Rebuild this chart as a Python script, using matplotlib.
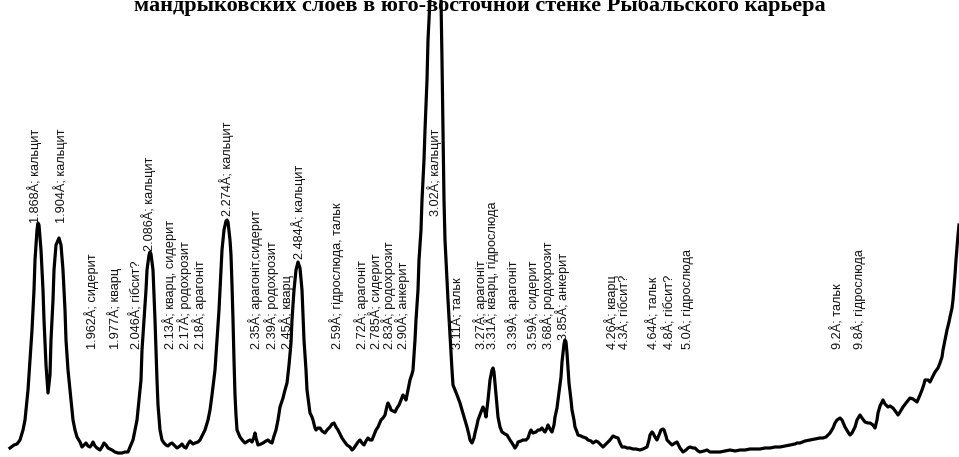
import matplotlib
matplotlib.use("Agg")
import matplotlib.pyplot as plt

# ---- data (horizontal position in px-like units, intensity = counts above bottom) ----
curve_pts = [(10,448),(14,445),(17,444),(20,440),(23,430),(25,420),(28,390),(30,360),(32,330),(34,290),(35,260),(37,230),(38,223),(39,225),(41,250),(43,290),(44,320),(46,365),(48,393),(50,375),(51,340),(53,300),(54,270),(56,245),(59,238),(61,245),(63,270),(65,310),(66,340),(68,370),(70,390),(73,420),(75,430),(77,437),(80,442),(82,447),(84,445),(86,443),(88,446),(90,447),(92,444),(93,442),(95,446),(97,448),(100,450),(102,447),(104,443),(106,445),(108,448),(112,450),(115,452),(118,453),(122,453),(125,452),(128,452),(130,447),(133,440),(135,430),(137,420),(139,400),(141,380),(142,350),(144,320),(146,290),(147,270),(149,255),(150,252),(151,254),(153,270),(154,295),(155,320),(156,350),(157,380),(158,405),(160,430),(162,440),(164,443),(166,445),(168,446),(170,444),(172,443),(175,446),(177,448),(180,446),(182,444),(184,447),(186,448),(188,444),(190,441),(193,444),(195,443),(198,442),(200,440),(202,436),(205,430),(208,420),(210,410),(212,395),(215,370),(217,340),(219,310),(221,270),(222,250),(224,230),(226,221),(227,220),(228,222),(230,240),(231,255),(232,285),(233,320),(234,360),(235,395),(236,415),(237,430),(240,437),(243,441),(245,443),(248,441),(250,440),(252,442),(254,437),(255,433),(256,438),(258,445),(261,444),(263,443),(266,441),(268,440),(270,442),(272,443),(274,436),(276,430),(278,420),(280,407),(283,398),(285,390),(287,383),(289,365),(291,343),(292,320),(294,290),(296,270),(298,262),(300,268),(302,290),(303,315),(304,340),(306,370),(307,390),(309,405),(310,413),(312,417),(313,420),(315,428),(316,430),(318,428),(320,428),(322,431),(325,433),(327,430),(330,427),(332,424),(334,423),(336,427),(338,430),(340,434),(342,438),(344,441),(347,445),(350,447),(352,450),(354,448),(356,445),(358,442),(360,440),(362,443),(364,445),(366,441),(368,438),(370,440),(372,440),(374,435),(376,430),(378,427),(381,420),(383,418),(385,415),(387,406),(388,403),(390,407),(391,410),(393,411),(395,412),(397,408),(399,405),(401,400),(403,395),(405,398),(406,400),(408,390),(410,380),(412,374),(413,370),(415,340),(416,320),(418,290),(419,260),(421,230),(422,200),(424,160),(425,130),(427,80),(428,40),(430,0),(433,-120),(436,-200),(439,-120),(441,0),(442,60),(443,130),(444,200),(445,240),(446,260),(448,300),(450,335),(452,370),(453,385),(455,390),(457,395),(460,403),(462,410),(465,420),(467,427),(469,435),(470,440),(472,443),(474,438),(475,433),(477,425),(478,420),(481,412),(483,407),(485,412),(486,417),(488,400),(490,380),(492,370),(493,368),(494,372),(495,383),(497,405),(498,417),(500,427),(502,432),(505,434),(507,435),(510,440),(512,443),(515,448),(517,445),(518,442),(521,441),(523,440),(526,440),(528,438),(530,432),(531,430),(533,433),(536,432),(538,430),(540,430),(542,428),(544,431),(545,432),(547,428),(548,425),(550,429),(552,432),(554,425),(555,417),(557,408),(558,400),(560,385),(561,377),(562,362),(563,353),(564,344),(565,340),(566,342),(567,353),(568,368),(569,383),(571,400),(572,410),(574,420),(575,427),(577,432),(578,435),(581,436),(583,437),(586,438),(588,440),(591,441),(593,443),(596,441),(598,442),(600,444),(603,447),(605,445),(608,442),(610,440),(613,436),(615,437),(618,438),(620,443),(622,447),(625,447),(627,448),(630,448),(633,449),(636,449),(640,450),(643,449),(645,448),(647,447),(649,440),(650,435),(652,432),(653,433),(655,437),(657,440),(659,435),(661,430),(663,429),(664,430),(666,436),(667,440),(670,443),(672,445),(675,443),(677,442),(679,446),(680,448),(683,452),(686,450),(688,448),(690,447),(693,448),(695,448),(698,451),(700,452),(704,451),(707,450),(710,452),(715,452),(720,452),(725,451),(730,450),(735,451),(740,450),(745,450),(750,449),(755,449),(760,449),(765,448),(770,448),(775,447),(780,447),(785,446),(790,445),(795,444),(797,443),(800,443),(805,441),(810,440),(815,439),(820,438),(823,438),(826,437),(828,435),(830,433),(833,428),(835,423),(837,420),(840,418),(842,420),(845,427),(848,432),(850,435),(852,433),(855,427),(857,420),(860,415),(862,418),(865,422),(868,423),(870,423),(873,425),(875,428),(877,420),(878,413),(880,406),(883,400),(885,404),(888,407),(890,406),(893,408),(896,412),(898,415),(900,412),(903,407),(906,403),(910,398),(913,399),(917,402),(920,395),(922,390),(924,384),(925,380),(928,380),(930,382),(933,376),(935,372),(938,368),(940,363),(942,357),(943,350),(945,340),(947,330),(949,322),(950,317),(952,308),(953,300),(955,275),(956,260),(958,235),(959,225)]
position = [p[0] for p in curve_pts]
intensity = [457 - p[1] for p in curve_pts]

label_texts = ["1.868Å; кальцит", "1.904Å; кальцит", "1.962Å; сидерит", "1.977Å; кварц",
               "2.046Å; гібсит?", "2.086Å; кальцит", "2.13Å; кварц, сидерит", "2.17Å; родохрозит",
               "2.18Å; арагоніт", "2.274Å; кальцит", "2.35Å; арагоніт,сидерит", "2.39Å; родохрозит",
               "2.45Å; кварц", "2.484Å; кальцит", "2.59Å; гідрослюда, тальк", "2.72Å; арагоніт",
               "2.785Å; сидерит", "2.83Å; родохрозит", "2.90Å; анкерит", "3.02Å; кальцит",
               "3.11Å; тальк", "3.27Å; арагоніт", "3.31Å; кварц, гідрослюда", "3.39Å; арагоніт",
               "3.59Å; сидерит", "3.68Å; родохрозит", "3.85Å; анкерит", "4.26Å; кварц",
               "4.3Å; гібсит?", "4.64Å; тальк", "4.8Å; гібсит?", "5.0Å; гідрослюда",
               "9.2Å; тальк", "9.8Å; гідрослюда"]
label_x = [35, 61, 92, 115, 137, 149, 170, 185, 200, 227, 256, 272, 287, 299, 337, 362,
           376, 389, 403, 435, 458, 481, 492, 513, 533, 548, 563, 612, 625, 654, 670, 687,
           838, 859]
label_y = [223, 223, 349, 349, 349, 251, 349, 349, 349, 216, 349, 349, 349, 259, 349, 349,
           349, 349, 349, 216, 349, 349, 349, 349, 349, 349, 340, 349, 349, 349, 349, 349,
           349, 349]
title = "мандрыковских слоев в юго-восточной стенке Рыбальского карьера"

W, H = 959, 457
fig = plt.figure(figsize=(W / 100, H / 100), dpi=100)
ax = fig.add_axes([0, 0, 1, 1])
ax.set_xlim(0, W)
ax.set_ylim(0, H)
ax.axis("off")

ax.plot(position, intensity, color="black", lw=2.3, solid_joinstyle="round")

for t, x, y in zip(label_texts, label_x, label_y):
    ax.text(x, H - y, t, rotation=90, ha="center", va="bottom",
            fontsize=9.2, family="Liberation Sans", color="#111111")

fig.text(0.5, 1 - 11 / H, title, ha="center", va="baseline",
         fontsize=16, family="Liberation Serif", fontweight="bold")

fig.savefig("out.png", dpi=100)
